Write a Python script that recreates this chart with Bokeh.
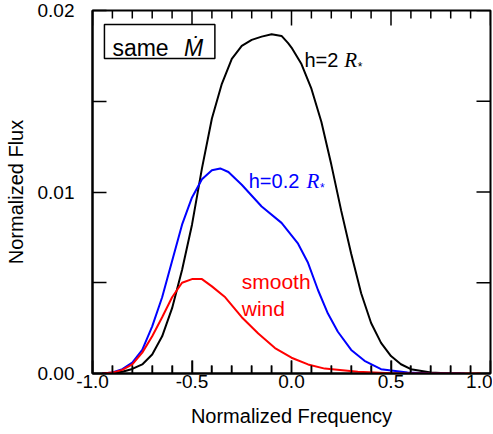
from bokeh.plotting import figure
from bokeh.models import FixedTicker, Label, BoxAnnotation, Range1d, PrintfTickFormatter
from bokeh.embed import file_html
from bokeh.resources import INLINE

# ---- data ----
black_x = [-0.95, -0.9, -0.85, -0.8, -0.75, -0.7, -0.65, -0.6, -0.55, -0.5, -0.45, -0.4, -0.35,
           -0.3, -0.25, -0.2, -0.15, -0.1, -0.05, -0.017, 0.0, 0.05, 0.1, 0.15, 0.2, 0.25, 0.3,
           0.35, 0.4, 0.45, 0.5, 0.55, 0.6, 0.7, 0.8, 0.85]
black_y = [0.0, 0.00002, 0.0001, 0.00025, 0.0005, 0.00105, 0.00205, 0.0036, 0.0057, 0.0082,
           0.0113, 0.01405, 0.01596, 0.01733, 0.01805, 0.01838, 0.01856, 0.01869, 0.0186, 0.0182,
           0.01796, 0.01705, 0.01569, 0.01387, 0.01151, 0.00896, 0.0066, 0.00442, 0.00278,
           0.00169, 0.00096, 0.00051, 0.00024, 0.00005, 0.0, 0.0]

blue_x = [-0.95, -0.9, -0.85, -0.8, -0.75, -0.7, -0.65, -0.6, -0.55, -0.5, -0.45, -0.4, -0.358,
          -0.317, -0.25, -0.15, -0.05, 0.033, 0.083, 0.133, 0.183, 0.233, 0.3, 0.367, 0.45,
          0.583, 0.7, 0.87]
blue_y = [0.0, 0.00006, 0.00024, 0.0006, 0.0013, 0.0026, 0.0042, 0.0062, 0.0082, 0.0097, 0.0107,
          0.0112, 0.0113, 0.0111, 0.0104, 0.0092, 0.0083, 0.00715, 0.0061, 0.0046, 0.0033,
          0.0023, 0.0013, 0.0007, 0.00024, 0.00005, 0.0, 0.0]

red_x = [-0.95, -0.9, -0.85, -0.8, -0.75, -0.7, -0.65, -0.6, -0.55, -0.5, -0.45, -0.4, -0.333,
         -0.25, -0.167, -0.083, 0.0, 0.083, 0.167, 0.333, 0.5, 0.7, 0.95]
red_y = [0.0, 0.00005, 0.0002, 0.0005, 0.00115, 0.00205, 0.0031, 0.0042, 0.0050, 0.0052, 0.0052,
         0.0048, 0.0042, 0.0031, 0.0022, 0.0014, 0.00087, 0.0005, 0.00027, 0.0001, 0.00002, 0.0, 0.0]

x_major = [-1.0, -0.5, 0.0, 0.5, 1.0]
x_minor = [-0.9, -0.8, -0.7, -0.6, -0.4, -0.3, -0.2, -0.1, 0.1, 0.2, 0.3, 0.4, 0.6, 0.7, 0.8, 0.9]
y_major = [0.0, 0.01, 0.02]
y_minor = [0.005, 0.015]

FONT = "Liberation Sans"
X0, X1 = -1.0, 1.0
Y0, Y1 = 0.0, 0.02
FW, FH = 398, 363

p = figure(frame_width=FW, frame_height=FH,
           x_range=Range1d(X0, X1), y_range=Range1d(Y0, Y1),
           output_backend="svg", toolbar_location=None,
           min_border_left=92, min_border_top=10, min_border_right=2, min_border_bottom=0)
p.background_fill_color = "white"
p.border_fill_color = "white"
p.xgrid.visible = False
p.ygrid.visible = False
p.outline_line_color = "black"
p.outline_line_width = 2

def style_axis(ax, ticker, fmt, major_len, minor_len):
    ax.ticker = ticker
    ax.formatter = PrintfTickFormatter(format=fmt)
    ax.axis_line_color = "black"
    ax.axis_line_width = 2
    ax.major_tick_line_color = "black"
    ax.minor_tick_line_color = "black"
    ax.major_tick_line_width = 1.5
    ax.minor_tick_line_width = 1.5
    ax.major_tick_in = major_len
    ax.major_tick_out = 0
    ax.minor_tick_in = minor_len
    ax.minor_tick_out = 0
    ax.major_label_text_font = FONT
    ax.major_label_text_color = "black"
    ax.major_label_text_font_size = "19px"
    ax.axis_label_text_font = FONT
    ax.axis_label_text_color = "black"
    ax.axis_label_text_font_style = "normal"
    ax.axis_label_text_font_size = "20px"

bx = p.xaxis[0]
style_axis(bx, FixedTicker(ticks=x_major, minor_ticks=x_minor), "%.1f", 13, 8)
bx.major_label_standoff = 1
bx.axis_label = "Normalized Frequency"
bx.axis_label_standoff = 14

ly = p.yaxis[0]
style_axis(ly, FixedTicker(ticks=y_major, minor_ticks=y_minor), "%.2f", 14, 14)
ly.major_label_standoff = 18
ly.axis_label = "Normalized Flux"
ly.axis_label_standoff = 8

# inward ticks along the frame edges (from the tick lists)
dy_top_major = 15 * (Y1 - Y0) / FH
dy_bot_major = 13 * (Y1 - Y0) / FH
dy_minor = 8 * (Y1 - Y0) / FH
dx_tick = 14 * (X1 - X0) / FW
nM, nm = len(x_major), len(x_minor)
p.segment(x0=x_major, y0=[Y1] * nM, x1=x_major, y1=[Y1 - dy_top_major] * nM,
          line_color="black", line_width=1.5)
p.segment(x0=x_minor, y0=[Y1] * nm, x1=x_minor, y1=[Y1 - dy_minor] * nm,
          line_color="black", line_width=1.5)
p.segment(x0=x_major, y0=[Y0] * nM, x1=x_major, y1=[Y0 + dy_bot_major] * nM,
          line_color="black", line_width=1.5)
p.segment(x0=x_minor, y0=[Y0] * nm, x1=x_minor, y1=[Y0 + dy_minor] * nm,
          line_color="black", line_width=1.5)
y_all = y_major + y_minor
p.segment(x0=[X1] * len(y_all), y0=y_all, x1=[X1 - dx_tick] * len(y_all), y1=y_all,
          line_color="black", line_width=1.5)

# ---- curves ----
p.line(black_x, black_y, line_color="black", line_width=2)
p.line(blue_x, blue_y, line_color="#0000ff", line_width=2)
p.line(red_x, red_y, line_color="#ff0000", line_width=2)

# ---- annotations ----
p.add_layout(BoxAnnotation(left=-0.94, right=-0.385, bottom=0.01736, top=0.01923,
                           fill_color="white", fill_alpha=1.0,
                           line_color="black", line_alpha=1.0, line_width=1.5))

def txt(x, y, s, color="black", size="20px", font=FONT, style="normal"):
    p.add_layout(Label(x=x, y=y, text=s, text_color=color, text_font=font,
                       text_font_size=size, text_font_style=style,
                       text_baseline="alphabetic", text_align="left"))

SUB = 0.00039  # drop of the small asterisk below the baseline

txt(-0.9, 0.01791, "same", size="23px")
txt(-0.54, 0.01791, "Ṁ", size="23px", style="italic")

txt(0.065, 0.01725, "h=2", size="20px")
txt(0.265, 0.01725, "R", size="21px", font="Liberation Serif", style="italic")
txt(0.333, 0.01725 - SUB, "*", size="12px")

txt(-0.215, 0.01063, "h=0.2", color="#0000ff", size="20px")
txt(0.075, 0.01063, "R", color="#0000ff", size="21px", font="Liberation Serif", style="italic")
txt(0.143, 0.01063 - SUB, "*", color="#0000ff", size="12px")

txt(-0.25, 0.00507, "smooth", color="#ff0000", size="21px")
txt(-0.25, 0.00358, "wind", color="#ff0000", size="21px")

open("out.html", "w").write(file_html(p, INLINE))
